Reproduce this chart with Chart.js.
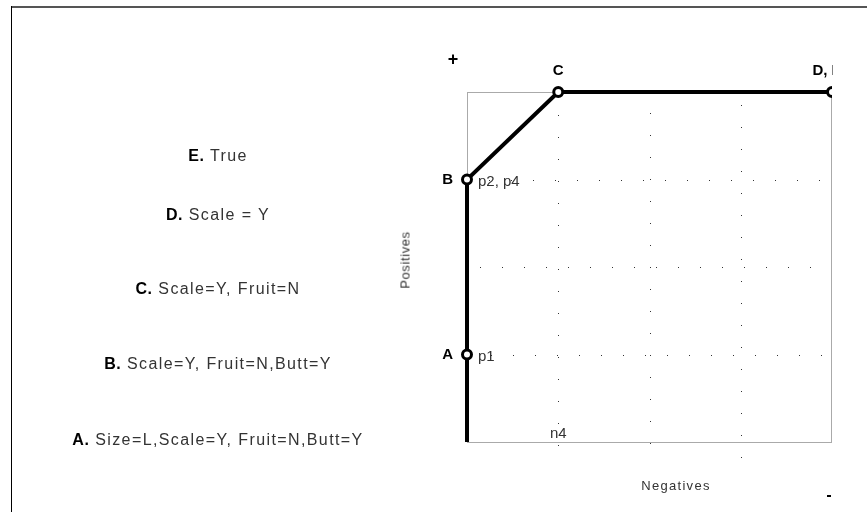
<!DOCTYPE html>
<html>
<head>
<meta charset="utf-8">
<script src="https://cdn.jsdelivr.net/npm/chart.js@4"></script>
<style>
  html, body { margin:0; padding:0; background:#fff; }
  body { width:867px; height:512px; position:relative; overflow:hidden; font-family:"Liberation Sans", Arial, sans-serif; }
  #frameTop { position:absolute; left:11px; top:6px; width:856px; height:2px; background:#555; }
  #frameLeft { position:absolute; left:11px; top:6px; width:1px; height:506px; background:#000; }
  #c { position:absolute; left:0; top:0; }
  .rule { position:absolute; left:218px; transform:translate(-50%,-50%); white-space:nowrap; font-size:16px; letter-spacing:1.4px; color:#333; }
  .rule b { color:#000; letter-spacing:0.5px; }
  .axt { position:absolute; font-size:13px; color:#333; white-space:nowrap; }
</style>
</head>
<body>
<div id="frameTop"></div>
<div id="frameLeft"></div>
<canvas id="c" width="867" height="512"></canvas>
<div id="rules"></div>
<div class="axt" id="ytitle" style="left:405px; top:260px; letter-spacing:0.6px; transform:translate(-50%,-50%) rotate(-90deg);">Positives</div>
<div class="axt" id="xtitle" style="left:676px; top:485px; letter-spacing:1.3px; transform:translate(-50%,-50%);">Negatives</div>
<script>
// ---- data ----
const pointNames   = ['', 'A', 'B', 'C', 'D, E'];
const pointTags    = ['', 'p1', 'p2, p4', '', ''];
const negatives    = [0, 0, 0, 1, 4];
const positives    = [0, 1, 3, 4, 4];
const gridX        = [1, 2, 3];
const gridY        = [1, 2, 3];
const ruleLetters  = ['E', 'D', 'C', 'B', 'A'];
const ruleTexts    = ['True', 'Scale = Y', 'Scale=Y, Fruit=N', 'Scale=Y, Fruit=N,Butt=Y', 'Size=L,Scale=Y, Fruit=N,Butt=Y'];
const ruleRows     = [156, 215, 289, 364, 440];

// left column of rules (text)
const rulesDiv = document.getElementById('rules');
ruleLetters.forEach((l, i) => {
  const d = document.createElement('div');
  d.className = 'rule';
  d.style.top = ruleRows[i] + 'px';
  d.innerHTML = '<b>' + l + '.</b> ' + ruleTexts[i];
  rulesDiv.appendChild(d);
});

const decor = {
  id: 'decor',
  beforeDatasetsDraw(chart) {
    const {ctx, chartArea: a, scales: {x, y}} = chart;
    ctx.save();
    // plot frame
    ctx.strokeStyle = '#aaaaaa';
    ctx.lineWidth = 1;
    ctx.strokeRect(a.left + 0.5, a.top + 0.5, a.right - a.left - 1, a.bottom - a.top);
    // dotted grid
    ctx.strokeStyle = '#333';
    ctx.setLineDash([1, 21]);
    const vExt = [[23, 16], [21, 16], [13, 30]];
    gridX.forEach((v, i) => {
      const px = Math.round(x.getPixelForValue(v)) + 0.5;
      ctx.beginPath();
      ctx.moveTo(px, a.top + vExt[i][0]);
      ctx.lineTo(px, a.bottom + vExt[i][1]);
      ctx.stroke();
    });
    const hStart = [24, 13, 0];
    gridY.forEach((v, i) => {
      const py = Math.round(y.getPixelForValue(v)) + 0.5;
      ctx.beginPath();
      ctx.moveTo(a.left + hStart[i], py);
      ctx.lineTo(a.right - 2, py);
      ctx.stroke();
    });
    ctx.restore();
  },
  afterDatasetsDraw(chart) {
    const {ctx, chartArea: a, scales: {x, y}} = chart;
    ctx.save();
    ctx.beginPath();
    ctx.rect(0, 0, a.right + 1, 512);
    ctx.clip();
    ctx.textBaseline = 'middle';
    negatives.forEach((n, i) => {
      const px = x.getPixelForValue(n), py = y.getPixelForValue(positives[i]);
      if (!pointNames[i]) return;
      ctx.fillStyle = '#000';
      ctx.font = 'bold 15px "Liberation Sans", Arial, sans-serif';
      if (n === 0) {
        ctx.textAlign = 'right';
        ctx.fillText(pointNames[i], px - 14, py);
        ctx.textAlign = 'left';
        ctx.font = '15px "Liberation Sans", Arial, sans-serif';
        ctx.fillStyle = '#333';
        ctx.fillText(pointTags[i], px + 11, py + 2);
      } else {
        ctx.textAlign = 'center';
        ctx.fillText(pointNames[i], px + (i === 4 ? -5 : 0), py - 21);
      }
    });
    // n4 tag on x axis
    ctx.font = '15px "Liberation Sans", Arial, sans-serif';
    ctx.fillStyle = '#333';
    ctx.textAlign = 'center';
    ctx.fillText('n4', x.getPixelForValue(1), a.bottom - 8);
    ctx.restore();
    // + / - markers
    ctx.save();
    ctx.fillStyle = '#000';
    ctx.font = 'bold 18px "Liberation Sans", Arial, sans-serif';
    ctx.textAlign = 'center';
    ctx.textBaseline = 'middle';
    ctx.fillText('+', a.left - 14, a.top - 32);
    ctx.fillRect(a.right - 5, a.bottom + 53, 4, 2);
    ctx.restore();
  }
};

new Chart(document.getElementById('c'), {
  type: 'scatter',
  data: {
    datasets: [{
      data: negatives.map((n, i) => ({x: n, y: positives[i]})),
      showLine: true,
      borderColor: '#000',
      borderWidth: 4,
      pointRadius: [0, 4.5, 4.5, 4.5, 4.5],
      pointBorderWidth: 3,
      pointBackgroundColor: '#fff',
      pointBorderColor: '#000',
      clip: {left: false, top: false, right: 0, bottom: false}
    }]
  },
  options: {
    responsive: false,
    devicePixelRatio: 1,
    animation: false,
    layout: { padding: {left: 467, top: 92, right: 35, bottom: 70} },
    plugins: { legend: {display: false}, tooltip: {enabled: false} },
    scales: {
      x: { type: 'linear', min: 0, max: 4, display: false },
      y: { type: 'linear', min: 0, max: 4, display: false }
    }
  },
  plugins: [decor]
});
</script>
</body>
</html>
